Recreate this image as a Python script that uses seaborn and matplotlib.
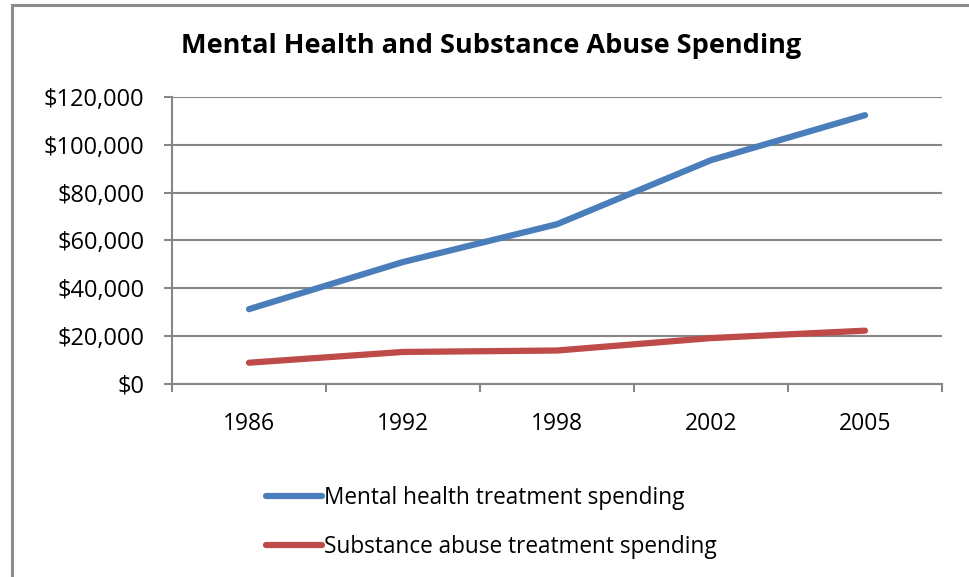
import matplotlib
matplotlib.use("Agg")
import matplotlib.pyplot as plt
import matplotlib.ticker as mticker
from matplotlib.patches import Rectangle
import pandas as pd
import seaborn as sns

# Data
years = ["1986", "1992", "1998", "2002", "2005"]
mental_health = [31300, 51000, 66800, 93600, 112400]
substance_abuse = [8900, 13400, 14000, 19200, 22300]
series_names = ["Mental health treatment spending", "Substance abuse treatment spending"]
colors = ["#4A7EBB", "#BE4B48"]

df = pd.DataFrame({
    "pos": list(range(len(years))) * 2,
    "value": mental_health + substance_abuse,
    "series": [series_names[0]] * len(years) + [series_names[1]] * len(years),
})

sns.set_theme(style="white")
plt.rcParams["font.family"] = ["Open Sans", "DejaVu Sans"]
plt.rcParams["text.color"] = "black"

fig = plt.figure(figsize=(9.69, 5.77), dpi=100)
ax = fig.add_axes([172 / 969, 1 - 384 / 577, (942 - 172) / 969, (384 - 97) / 577])

sns.lineplot(data=df, x="pos", y="value", hue="series", palette=colors,
             linewidth=4.5, ax=ax, legend=False)
for ln in ax.get_lines():
    ln.set_solid_capstyle("round")
    ln.set_solid_joinstyle("round")

grid_col = "#868686"
ax.set_ylim(0, 120000)
ax.set_xlim(-0.5, len(years) - 0.5)
ax.yaxis.set_major_locator(mticker.MultipleLocator(20000))
ax.yaxis.set_major_formatter(mticker.FuncFormatter(lambda v, p: f"${v:,.0f}"))
ax.grid(axis="y", color=grid_col, linewidth=1.5)
ax.set_axisbelow(True)

ax.set_xticks(range(len(years)))
ax.set_xticklabels(years)
ax.set_xticks([i - 0.5 for i in range(len(years) + 1)], minor=True)
ax.tick_params(axis="x", which="major", length=0, pad=20, labelsize=16.5, labelcolor="black")
ax.tick_params(axis="x", which="minor", length=6, width=1.5, color=grid_col, direction="out")
ax.tick_params(axis="y", length=6, width=1.5, color=grid_col, direction="out",
               pad=14, labelsize=17, labelcolor="black")
ax.xaxis.set_ticks_position("bottom")
ax.yaxis.set_ticks_position("left")

for s in ["top", "right"]:
    ax.spines[s].set_visible(False)
for s in ["left", "bottom"]:
    ax.spines[s].set_color(grid_col)
    ax.spines[s].set_linewidth(1.5)
ax.set_xlabel("")
ax.set_ylabel("")

fig.text(491 / 969, 1 - 46 / 577, "Mental Health and Substance Abuse Spending",
         ha="center", va="center", fontsize=19.5, fontweight="bold", color="black")

handles = ax.get_lines()[:2]
leg = fig.legend(handles, series_names, loc="upper left",
                 bbox_to_anchor=(255 / 969, 1 - 475 / 577), frameon=False, borderpad=0,
                 fontsize=16.3, handlelength=2.45, handletextpad=0.1, labelspacing=1.1,
                 labelcolor="black")

fig.patches.append(Rectangle((12 / 969, -0.1), 1.2, 1 - 5 / 577 + 0.1, transform=fig.transFigure,
                             fill=False, edgecolor="#8C8C8C", linewidth=2.2))

fig.savefig("out.png", dpi=100)
